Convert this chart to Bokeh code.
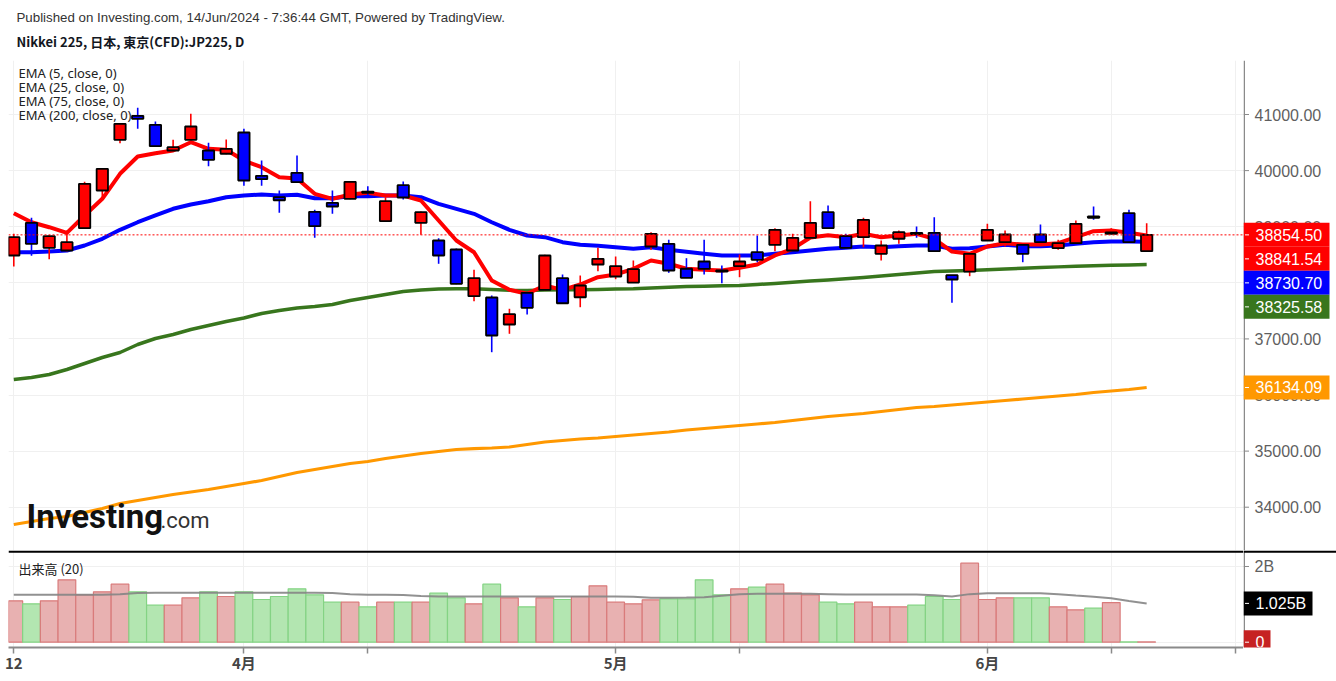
from bokeh.plotting import figure
from bokeh.models import (ColumnDataSource, FixedTicker, Label, Grid, BoxAnnotation, Range1d,
                          Span, Title)
from bokeh.layouts import column, row
from bokeh.core.properties import value
from bokeh.embed import file_html
from bokeh.resources import INLINE

# ---------------- data ----------------
opens = [38487, 39070, 38624, 38576, 38973, 39645, 40549, 40977, 40816, 40358,
         40549, 40358, 40300, 40679, 39907, 39526, 39961, 39266, 39426, 39497,
         39627, 39098, 39740, 39070, 38754, 38594, 37761, 37738, 37257, 37822,
         37875, 38082, 37743, 38326, 38112, 38005, 38647, 38695, 38251, 38380,
         38219, 38296, 38546, 38677, 38576, 38802, 39259, 38831, 38813, 38517,
         38785, 38891, 38891, 38136, 38201, 38754, 38724, 38677, 38861, 38617,
         38706, 39182, 38873, 39241, 38563]
highs = [38873, 39159, 38850, 38920, 39800, 40043, 40845, 41119, 40875, 40549,
         41012, 40496, 40554, 40745, 40180, 39645, 40269, 39302, 39645, 39810,
         39722, 39526, 39806, 39270, 38795, 38612, 38232, 37774, 37537, 37830,
         38500, 38148, 38130, 38624, 38469, 38398, 38902, 38766, 38439, 38766,
         38309, 38505, 38843, 38973, 38873, 39455, 39378, 38873, 39159, 38754,
         38932, 39004, 39169, 38140, 38525, 39052, 38932, 38680, 39039, 38766,
         39110, 39360, 38973, 39302, 39062]
lows = [38291, 38481, 38421, 38560, 38960, 39497, 40488, 40745, 40430, 40350,
        40540, 40078, 40290, 39729, 39729, 39248, 39780, 38802, 39230, 39490,
        39556, 39090, 39485, 38856, 38339, 37975, 37672, 36763, 37091, 37435,
        37865, 37630, 37565, 38207, 38064, 38000, 38588, 38178, 38085, 38148,
        37993, 38100, 38367, 38563, 38570, 38795, 38965, 38615, 38635, 38398,
        38695, 38802, 38555, 37644, 38118, 38745, 38647, 38367, 38720, 38588,
        38700, 39123, 38866, 38715, 38555]
closes = [38813, 38695, 38831, 38724, 39765, 40032, 40834, 40923, 40435, 40417,
          40786, 40193, 40389, 39824, 39847, 39472, 39793, 39009, 39360, 39800,
          39604, 39455, 39521, 39259, 38487, 37982, 38082, 37061, 37440, 37554,
          38487, 37636, 37952, 38428, 38296, 38243, 38873, 38219, 38089, 38250,
          38201, 38380, 38410, 38945, 38802, 39070, 38973, 38624, 39123, 38665,
          38902, 38866, 38563, 38059, 38517, 38945, 38861, 38517, 38724, 38706,
          39052, 39159, 38897, 38724, 38854.50]

ema5 = [39241, 39080, 38991, 38891, 39200, 39497, 39943, 40251, 40310, 40358,
        40506, 40389, 40371, 40180, 40061, 39882, 39859, 39586, 39497, 39574,
        39604, 39556, 39556, 39467, 39110, 38754, 38545, 38041, 37875, 37804,
        37952, 37875, 37970, 38100, 38148, 38250, 38398, 38339, 38250, 38232,
        38219, 38267, 38326, 38487, 38606, 38807, 38848, 38813, 38873, 38813,
        38843, 38873, 38784, 38558, 38517, 38647, 38706, 38683, 38683, 38706,
        38813, 38920, 38932, 38891, 38841.54]
ema25 = [38545, 38545, 38558, 38576, 38665, 38784, 38945, 39080, 39200, 39319,
         39396, 39455, 39526, 39556, 39574, 39556, 39571, 39508, 39508, 39544,
         39544, 39556, 39556, 39526, 39408, 39319, 39230, 39080, 38945, 38843,
         38813, 38724, 38679, 38660, 38635, 38606, 38635, 38588, 38553, 38517,
         38487, 38487, 38487, 38517, 38545, 38576, 38606, 38624, 38647, 38635,
         38652, 38665, 38665, 38606, 38617, 38647, 38677, 38652, 38652, 38665,
         38695, 38724, 38736, 38736, 38730.70]
ema75 = [36276, 36312, 36365, 36455, 36562, 36669, 36758, 36900, 37007, 37078,
         37168, 37239, 37310, 37373, 37453, 37506, 37551, 37578, 37613, 37684,
         37738, 37791, 37845, 37872, 37890, 37893, 37893, 37881, 37868, 37863,
         37872, 37875, 37875, 37881, 37890, 37893, 37907, 37920, 37934, 37940,
         37947, 37952, 37970, 37988, 38011, 38032, 38050, 38071, 38094, 38121,
         38148, 38175, 38200, 38210, 38219, 38232, 38246, 38260, 38272, 38284,
         38294, 38304, 38312, 38319, 38325.58]
ema200 = [33692, 33745, 33799, 33834, 33906, 33977, 34066, 34120, 34173, 34226,
          34271, 34316, 34369, 34423, 34476, 34547, 34619, 34672, 34726, 34779,
          34815, 34868, 34913, 34957, 34993, 35029, 35046, 35055, 35073, 35118,
          35162, 35189, 35216, 35234, 35260, 35287, 35314, 35341, 35376, 35403,
          35430, 35456, 35483, 35510, 35546, 35581, 35617, 35644, 35670, 35706,
          35742, 35777, 35795, 35822, 35849, 35875, 35902, 35929, 35956, 35982,
          36009, 36045, 36071, 36098, 36134.09]

# volume in billions
volume = [1.093, 1.013, 1.093, 1.648, 1.251, 1.330, 1.533, 1.330, 0.978, 0.978,
          1.172, 1.330, 1.207, 1.330, 1.128, 1.207, 1.410, 1.251, 1.057, 1.057,
          0.934, 1.057, 1.057, 1.057, 1.295, 1.172, 1.013, 1.533, 1.172, 0.934,
          1.172, 1.128, 1.207, 1.489, 1.057, 1.013, 1.119, 1.145, 1.145, 1.648,
          1.251, 1.410, 1.454, 1.533, 1.295, 1.251, 1.057, 1.013, 1.057, 0.934,
          0.934, 0.978, 1.207, 1.128, 2.088, 1.128, 1.172, 1.172, 1.172, 0.934,
          0.855, 0.899, 1.048, 0.008, 0.008]
vol_ma = [1.251, 1.251, 1.251, 1.251, 1.251, 1.255, 1.270, 1.300, 1.304, 1.304,
          1.304, 1.304, 1.304, 1.304, 1.304, 1.304, 1.304, 1.304, 1.300, 1.270,
          1.251, 1.251, 1.250, 1.220, 1.207, 1.207, 1.207, 1.207, 1.207, 1.207,
          1.207, 1.207, 1.207, 1.207, 1.207, 1.200, 1.172, 1.172, 1.180, 1.190,
          1.230, 1.265, 1.278, 1.278, 1.278, 1.278, 1.270, 1.260, 1.260, 1.260,
          1.260, 1.260, 1.240, 1.210, 1.270, 1.295, 1.295, 1.295, 1.295, 1.270,
          1.233, 1.200, 1.160, 1.090, 1.025]
last_volume = 0

x_ticks = [0, 13, 20, 34, 41, 55, 62, 69]
x_tick_labels = {0: "12", 13: "4月", 20: "", 34: "5月", 41: "", 55: "6月", 62: "", 69: ""}
price_ticks = [34000, 35000, 36000, 37000, 38000, 39000, 40000, 41000]
vol_ticks = [0, 2]
vol_tick_labels = ["0", "2B"]

header1 = "Published on Investing.com, 14/Jun/2024 - 7:36:44 GMT, Powered by TradingView."
header2 = "Nikkei 225, 日本, 東京(CFD):JP225, D"
legend_lines = ["EMA (5, close, 0)", "EMA (25, close, 0)", "EMA (75, close, 0)", "EMA (200, close, 0)"]
vol_title = "出来高 (20)"

UP, DOWN = "#ff0000", "#0000ff"
C_E5, C_E25, C_E75, C_E200 = "#ff0000", "#0000ff", "#38761d", "#ff9800"
AX = "#8a8a8a"
AXTXT = "#5f5f5f"
GRID = "#f0f0f0"

# ---------------- geometry ----------------
W = 1336
FL, FR = 8, 1243
RW = W - FR
X0, X1 = -0.2994, 69.47
M_TOP_PX, M_BOT_PX = 60, 550
Y_TOP, Y_BOT = 41962.6, 33228.4
V_TOP_PX, V_BOT_PX = 550, 647
V_TOP, V_BOT = 2.4227, -0.14
VH = 681 - M_BOT_PX
M_SCALE = (Y_TOP - Y_BOT) / (M_BOT_PX - M_TOP_PX)     # value per px
V_SCALE = (V_TOP - V_BOT) / (V_BOT_PX - V_TOP_PX)


def px_x(px):
    return X0 + (px - FL) * (X1 - X0) / (FR - FL)


def py_main(py):
    return Y_TOP - (py - M_TOP_PX) * M_SCALE


def main_px(v):
    return M_TOP_PX + (Y_TOP - v) / M_SCALE


def py_vol(py):
    return V_TOP - (py - V_TOP_PX) * V_SCALE


idx = list(range(len(opens)))
up = [c >= o for o, c in zip(opens, closes)]
src = ColumnDataSource(dict(
    x=idx,
    top=[max(o, c) for o, c in zip(opens, closes)],
    bottom=[min(o, c) for o, c in zip(opens, closes)],
    high=highs, low=lows,
    color=[UP if u else DOWN for u in up],
    vol=volume,
    vfill=["#e8b1b1" if u else "#b3e6b1" for u in up],
    vline=["#d97b7b" if u else "#84d384" for u in up],
))


def base_fig(**kw):
    f = figure(output_backend="svg", toolbar_location=None, **kw)
    f.outline_line_color = None
    f.background_fill_color = "white"
    f.border_fill_color = "white"
    return f


# ---------------- main price pane ----------------
p = base_fig(width=FR, height=M_BOT_PX, x_range=Range1d(X0, X1), y_range=Range1d(Y_BOT, Y_TOP),
             x_axis_location=None, y_axis_location=None, min_border_left=FL,
             min_border_right=0, min_border_top=M_TOP_PX, min_border_bottom=0)
for g in p.xgrid + p.ygrid:
    g.visible = False
p.add_layout(Grid(dimension=0, ticker=FixedTicker(ticks=x_ticks), grid_line_color=GRID))
p.add_layout(Grid(dimension=1, ticker=FixedTicker(ticks=price_ticks), grid_line_color=GRID))

p.add_layout(Title(text=header2, align="left", offset=8, standoff=15, vertical_align="top",
                   text_font="Noto Sans CJK JP", text_font_size="13px", text_font_style="bold",
                   text_color="#131722"), "above")
p.add_layout(Title(text=header1, align="left", offset=8, standoff=0, vertical_align="bottom",
                   text_font="Liberation Sans", text_font_size="13.3px", text_font_style="normal",
                   text_color="#333333"), "above")

p.add_layout(Span(location=closes[-1], dimension="width", line_color="#ff0000",
                  line_width=1, line_dash="2 2"))

for series, col, lw in [(ema200, C_E200, 3.2), (ema75, C_E75, 3.5), (ema25, C_E25, 4), (ema5, C_E5, 4)]:
    p.line(idx, series, line_color=col, line_width=lw, line_join="round")

p.segment(x0="x", y0="low", x1="x", y1="high", line_color="color", line_width=1.6, source=src)
p.vbar(x="x", width=0.64, top="top", bottom="bottom", fill_color="color",
       line_color="#000000", line_width=1.8, source=src)

for k, t in enumerate(legend_lines):
    p.add_layout(Label(x=px_x(18), y=py_main(72.5 + 14 * k), text=t, text_baseline="middle",
                       text_align="left", text_font="Noto Sans", text_font_size="13px",
                       text_color="#222222"))

p.add_layout(Label(x=px_x(26), y=py_main(516), text="Investing", text_baseline="middle",
                   text_align="left", text_font="Roboto", text_font_size="33px",
                   text_font_style="bold", text_color="#111111"))
p.add_layout(Label(x=px_x(160), y=py_main(520), text=".com", text_baseline="middle",
                   text_align="left", text_font="Roboto", text_font_size="22px",
                   text_color="#333333"))

# ---------------- main price scale column ----------------
pr = base_fig(width=RW, height=M_BOT_PX, x_range=Range1d(0, RW), y_range=p.y_range,
              x_axis_location=None, y_axis_location=None, min_border_left=0,
              min_border_right=0, min_border_top=M_TOP_PX, min_border_bottom=0)
for g in pr.xgrid + pr.ygrid:
    g.visible = False
pr.segment(x0=[0.75], y0=[Y_BOT], x1=[0.75], y1=[Y_TOP], line_color=AX, line_width=1.5)
pr.segment(x0=[0] * len(price_ticks), y0=price_ticks, x1=[5.5] * len(price_ticks), y1=price_ticks,
           line_color=AX, line_width=1)
pr.text(x=[11] * len(price_ticks), y=price_ticks, text=["%.2f" % t for t in price_ticks],
        text_baseline="middle", text_align="left", text_font=value("Liberation Sans"),
        text_font_size=value("16px"), text_color=AXTXT)

boxes = [(closes[-1], "#ff0000"), (ema5[-1], C_E5), (ema25[-1], C_E25),
         (ema75[-1], C_E75), (ema200[-1], C_E200)]
boxes.sort(key=lambda b: -b[0])
bx_y, bx_col, bx_txt, bx_top, bx_bot = [], [], [], [], []
prev = -1e9
for val, col in boxes:
    ypx = max(main_px(val), prev + 24)
    prev = ypx
    bx_y.append(py_main(ypx))
    bx_top.append(py_main(ypx - 12))
    bx_bot.append(py_main(ypx + 12))
    bx_col.append(col)
    bx_txt.append("%.2f" % val)
pr.quad(left=0, right=86, top=bx_top, bottom=bx_bot, fill_color=bx_col, line_color=None)
pr.segment(x0=[1.5] * len(bx_y), y0=bx_y, x1=[5.5] * len(bx_y), y1=bx_y, line_color="white",
           line_width=1)
pr.text(x=[12] * len(bx_y), y=bx_y, text=bx_txt, text_baseline="middle", text_align="left",
        text_font=value("Liberation Sans"), text_font_size=value("16px"), text_color="white")

# ---------------- volume pane ----------------
v = base_fig(width=FR, height=VH, x_range=p.x_range, y_range=Range1d(V_BOT, V_TOP),
             y_axis_location=None, min_border_left=FL, min_border_right=0, min_border_top=0,
             min_border_bottom=VH - (V_BOT_PX - V_TOP_PX))
for g in v.xgrid + v.ygrid:
    g.visible = False
v.add_layout(Grid(dimension=0, ticker=FixedTicker(ticks=x_ticks), grid_line_color=GRID))
v.add_layout(Grid(dimension=1, ticker=FixedTicker(ticks=vol_ticks), grid_line_color=GRID))
xa = v.xaxis[0]
xa.ticker = FixedTicker(ticks=x_ticks)
xa.major_label_overrides = x_tick_labels
xa.axis_line_color = AX
xa.axis_line_width = 2
xa.major_tick_line_color = AX
xa.major_tick_line_width = 1.5
xa.major_tick_in = 0
xa.major_tick_out = 6
xa.minor_tick_line_color = None
xa.major_label_standoff = -2
xa.major_label_text_font = "Noto Sans CJK JP"
xa.major_label_text_font_style = "bold"
xa.major_label_text_font_size = "15px"
xa.major_label_text_color = "#454545"

v.vbar(x="x", width=1.0, top="vol", bottom=0, fill_color="vfill", line_color="vline",
       line_width=1.2, source=src)
v.line(idx, vol_ma, line_color="#858585", line_width=2, line_alpha=0.9)
v.add_layout(Label(x=px_x(18), y=py_vol(567.5), text=vol_title, text_baseline="middle",
                   text_align="left", text_font="Noto Sans CJK JP", text_font_size="13px",
                   text_color="#222222"))
v.add_layout(BoxAnnotation(left=X0, right=X1, top=py_vol(550), bottom=py_vol(552.2),
                           fill_color="#000000", fill_alpha=1.0, line_color=None))

# ---------------- volume scale column ----------------
vr = base_fig(width=RW, height=VH, x_range=Range1d(0, RW), y_range=v.y_range,
              x_axis_location=None, y_axis_location=None, min_border_left=0, min_border_right=0,
              min_border_top=0, min_border_bottom=VH - (V_BOT_PX - V_TOP_PX))
for g in vr.xgrid + vr.ygrid:
    g.visible = False
vr.segment(x0=[0.75], y0=[V_BOT], x1=[0.75], y1=[V_TOP], line_color=AX, line_width=1.5)
vr.segment(x0=[0] * len(vol_ticks), y0=vol_ticks, x1=[5.5] * len(vol_ticks), y1=vol_ticks,
           line_color=AX, line_width=1)
vr.text(x=[11] * len(vol_ticks), y=vol_ticks, text=vol_tick_labels, text_baseline="middle",
        text_align="left", text_font=value("Liberation Sans"), text_font_size=value("16px"),
        text_color=AXTXT)
vb_h = 12 * V_SCALE
vr.quad(left=[0, 0], right=[69, 27], top=[vol_ma[-1] + vb_h, last_volume + vb_h],
        bottom=[vol_ma[-1] - vb_h, last_volume - vb_h], fill_color=["#000000", "#c62222"],
        line_color=None)
vr.segment(x0=[1.5, 1.5], y0=[vol_ma[-1], last_volume], x1=[5.5, 5.5], y1=[vol_ma[-1], last_volume],
           line_color="white", line_width=1)
vr.text(x=[12, 12], y=[vol_ma[-1], last_volume], text=["%.3fB" % vol_ma[-1], "%d" % last_volume],
        text_baseline="middle", text_align="left", text_font=value("Liberation Sans"),
        text_font_size=value("16px"), text_color="white")
vr.quad(left=[0], right=[RW], top=[py_vol(550)], bottom=[py_vol(552.2)], fill_color="#000000",
        line_color=None)

layout = row(column(p, v), column(pr, vr))
open("out.html", "w").write(file_html(layout, INLINE))
